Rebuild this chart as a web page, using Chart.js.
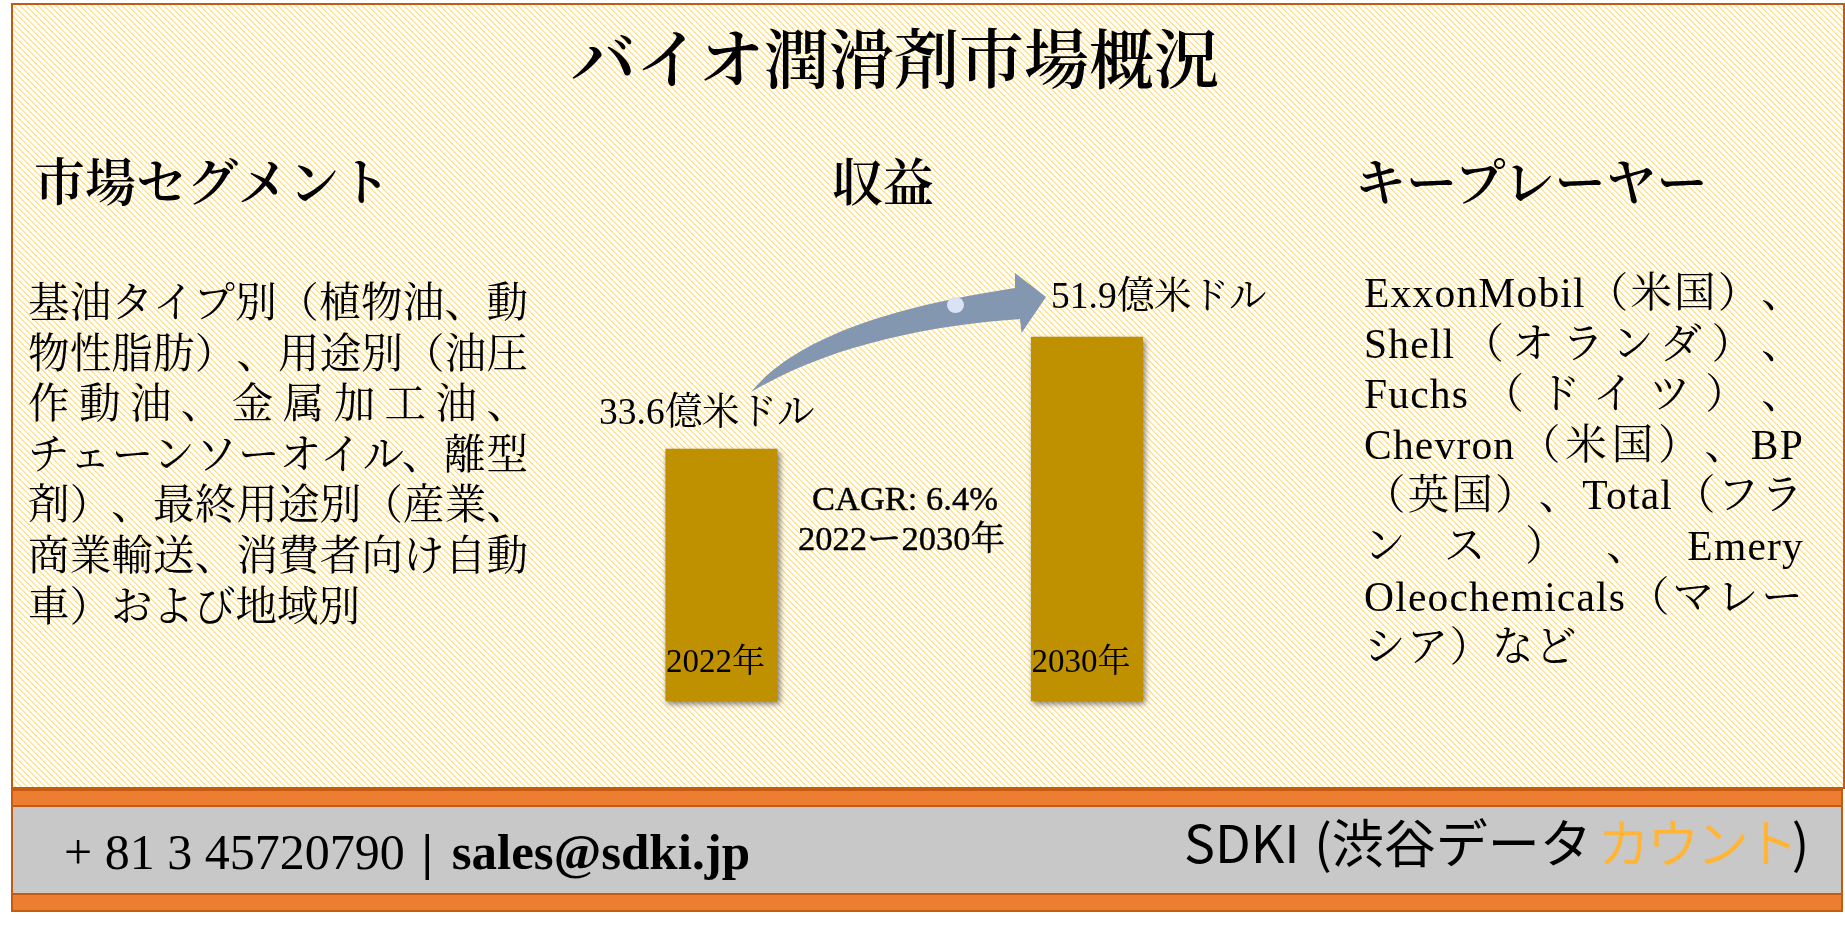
<!DOCTYPE html>
<html lang="ja">
<head>
<meta charset="utf-8">
<title>バイオ潤滑剤市場概況</title>
<script src="https://cdn.jsdelivr.net/npm/chart.js@4/dist/chart.umd.min.js"></script>
<style>
  html,body{margin:0;padding:0;background:#fff;width:1845px;height:929px;overflow:hidden}
  body{position:relative;font-family:"Liberation Serif","Noto Serif CJK JP","Noto Sans CJK JP",serif;color:#000;text-spacing-trim:space-all}
  .abs{position:absolute;white-space:nowrap}
  #panel{position:absolute;left:11px;top:3px;width:1830px;height:782px;border:2px solid #C55A11;
    background-color:#fff;
    background-image:url("data:image/svg+xml,%3Csvg xmlns='http://www.w3.org/2000/svg' width='6' height='6' shape-rendering='crispEdges'%3E%3Cpath d='M0 0h1v1H0zM1 1h1v1H1zM2 2h1v1H2zM3 3h1v1H3zM4 4h1v1H4zM5 5h1v1H5z' fill='%23FFE08A'/%3E%3Cpath d='M1 0h1v1H1zM2 1h1v1H2zM3 2h1v1H3zM4 3h1v1H4zM5 4h1v1H5zM0 5h1v1H0z' fill='%23FFE9A8'/%3E%3C/svg%3E")}
  #foot{position:absolute;left:11px;top:789px;width:1832px;height:123px;background:#ED7D31;box-sizing:border-box;border:2px solid #C55A11}
  #foot i{position:absolute;left:0;right:0;top:14px;height:90px;background:#C8C8C8;border-top:2px solid #C55A11;border-bottom:2px solid #C55A11;box-sizing:border-box}
  #cv{position:absolute;left:0;top:0}
  #arrow{position:absolute;left:0;top:0}
  .head{font-size:51px;font-weight:600}
  .para{position:absolute;font-size:41.5px;line-height:50.6px}
  .para div{text-align:justify;text-align-last:justify;white-space:nowrap}
  .para div.end{text-align-last:left}
  .firm{-webkit-text-stroke:.4px #000}
</style>
</head>
<body>
<div id="panel"></div>
<div id="foot"><i></i></div>
<canvas id="cv" width="1845" height="929"></canvas>
<svg id="arrow" width="1845" height="929">
  <path d="M751 392 C790 345 870 310 1015 288 L1015 273 L1046 297 L1021.5 333 L1020 319 C930 325 830 345 751 392 Z" fill="#8497B0"/>
  <ellipse cx="955.5" cy="305" rx="8.5" ry="8" fill="#DAE3F3"/>
</svg>

<div class="abs" id="title" style="left:571px;top:8px;font-size:65px;font-weight:600">バイオ潤滑剤市場概況</div>
<div class="abs head" style="left:34px;top:142px">市場セグメント</div>
<div class="abs head" style="left:832px;top:142px">収益</div>
<div class="abs head" style="left:1355px;top:142px">キープレーヤー</div>

<div class="para" id="segments" style="left:28px;top:278px;width:500px"></div>
<div class="para" id="players" style="left:1364px;top:268px;width:440px;letter-spacing:1.2px"></div>

<div class="abs firm" style="left:812px;top:479px;font-size:34.5px">CAGR: 6.4%</div>
<div class="abs firm" style="left:798px;top:510px;font-size:34.5px">2022ー2030年</div>

<div class="abs" style="left:64px;top:823px;font-size:50px;line-height:58px">+ 81 3 45720790<b style="margin:0 19px 0 17px">|</b><b style="font-size:51px">sales@sdki.jp</b></div>
<div class="abs" style="left:1184px;top:803px;font-size:52px;word-spacing:3px;font-family:'Noto Sans CJK JP',sans-serif">SDKI (渋谷データ<span style="color:#FFB638;letter-spacing:-2.5px;margin:0 -4px 0 6px">カウント</span>)</div>

<script>
const categories = ['2022年', '2030年'];
const revenue = [33.6, 51.9];
const valueUnit = '億米ドル';
const segmentLines = [
  '基油タイプ別（植物油、動', '物性脂肪）、用途別（油圧', '作動油、金属加工油、',
  'チェーンソーオイル、離型', '剤）、最終用途別（産業、', '商業輸送、消費者向け自動', '車）および地域別'
];
const playerLines = [
  'ExxonMobil（米国）、', 'Shell（オランダ）、', 'Fuchs（ドイツ）、', 'Chevron（米国）、BP',
  '（英国）、Total（フラ', 'ンス）、Emery', 'Oleochemicals（マレー', 'シア）など'
];

function fillPara(id, lines){
  document.getElementById(id).innerHTML = lines.map((l, i) =>
    `<div${i === lines.length - 1 ? ' class="end"' : ''}>${l}</div>`).join('');
}
fillPara('segments', segmentLines);
fillPara('players', playerLines);

const FONT = '"Liberation Serif","Noto Serif CJK JP","Noto Sans CJK JP",serif';
// the source bars are not drawn from zero, this floor reproduces their height ratio
const yFloor = -7.575;
const labelShift = [[-122.5, -35], [-36, -38.5]];

const barShadow = {
  id: 'barShadow',
  beforeDatasetsDraw(chart){
    const c = chart.ctx;
    c.save();
    c.shadowColor = 'rgba(0,0,0,0.5)';
    c.shadowBlur = 6;
    c.shadowOffsetX = 2;
    c.shadowOffsetY = 3;
  },
  afterDatasetsDraw(chart){ chart.ctx.restore(); }
};

const valueLabels = {
  id: 'valueLabels',
  afterDraw(chart){
    const c = chart.ctx;
    c.save();
    c.font = '37.5px ' + FONT;
    c.fillStyle = '#000';
    c.textAlign = 'left';
    c.textBaseline = 'middle';
    chart.getDatasetMeta(0).data.forEach((bar, i) => {
      c.fillText(revenue[i] + valueUnit, bar.x + labelShift[i][0], bar.y + labelShift[i][1]);
    });
    c.restore();
  }
};

new Chart(document.getElementById('cv'), {
  type: 'bar',
  data: {
    labels: categories,
    datasets: [{ data: revenue, base: yFloor, backgroundColor: '#BF9000', barThickness: 111.5, borderWidth: 0, clip: false }]
  },
  plugins: [barShadow, valueLabels],
  options: {
    responsive: false,
    devicePixelRatio: 1,
    animation: false,
    layout: { padding: { left: 538.75, right: 575.25, top: 287.4, bottom: 228 } },
    plugins: { legend: { display: false }, tooltip: { enabled: false } },
    scales: {
      y: { display: false, min: yFloor, max: 60 },
      x: {
        afterFit(scale){ scale.height = 0; },
        grid: { display: false },
        border: { display: false },
        // mirror keeps the labels from being clipped to the zero height axis box
        ticks: { color: '#000', font: { family: FONT, size: 33 }, mirror: true, padding: 18, labelOffset: -6, maxRotation: 0, autoSkip: false, z: 1 }
      }
    }
  }
});
</script>
</body>
</html>
